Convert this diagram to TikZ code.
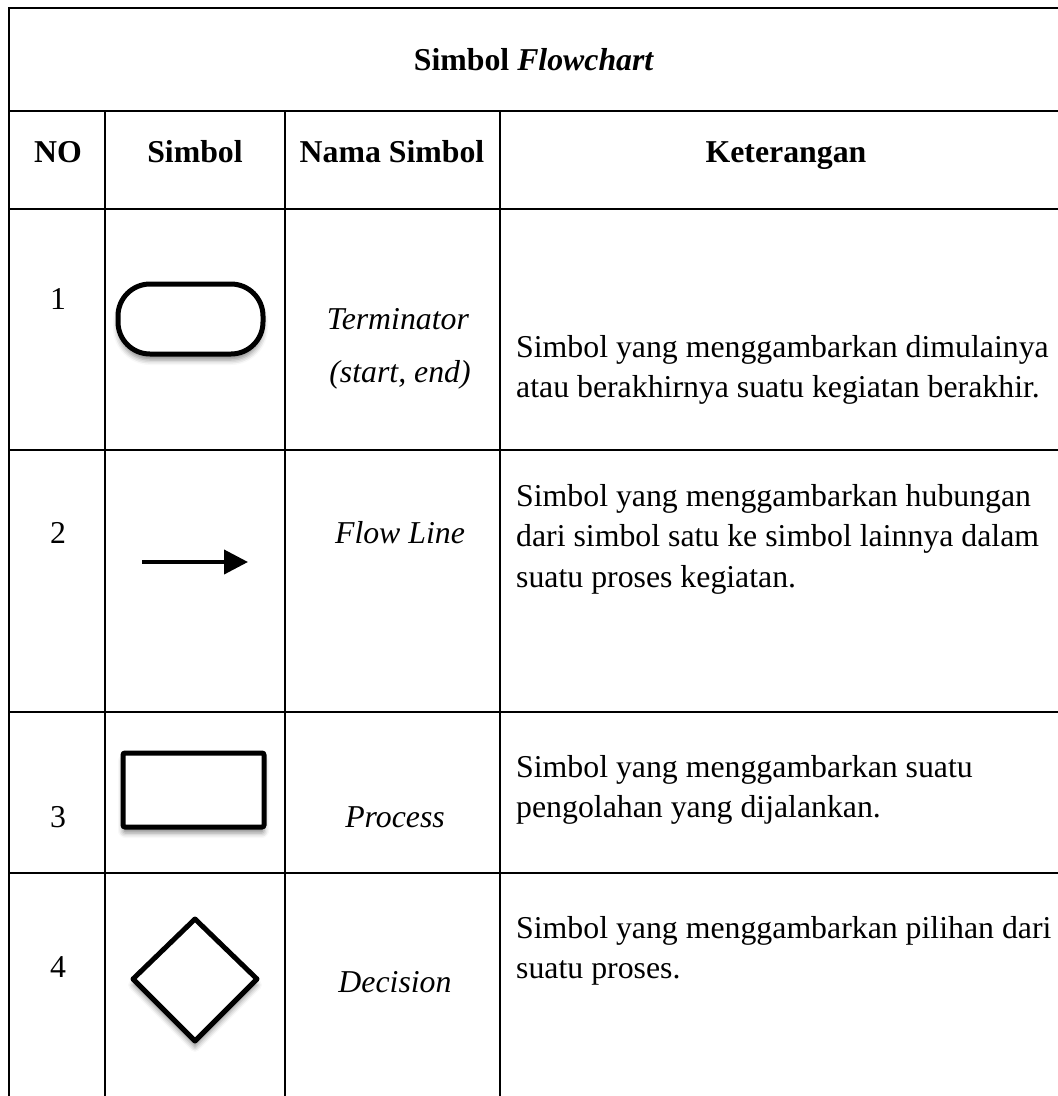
\documentclass[tikz,border=0pt]{standalone}
\usepackage{fontspec}
\setmainfont{Liberation Serif}
\usetikzlibrary{arrows.meta,shadows.blur}
\begin{document}
\begin{tikzpicture}[x=1pt,y=-1pt,
  grid/.style={line width=1.8pt, line cap=rect},
  txt/.style={inner sep=0pt, text height=22pt, text depth=7pt, yshift=-3.5pt, font=\fontsize{31.8}{40.5}\selectfont},
  desc/.style={inner sep=0pt, anchor=west, align=left, font=\fontsize{31.8}{40.5}\selectfont},
  sym/.style={line width=5pt, fill=white, blur shadow={shadow xshift=0pt, shadow yshift=-6pt, shadow blur radius=5pt, shadow opacity=45}}]
\useasboundingbox (0,0) rectangle (1058,1096);
% table grid
\draw[grid] (1058,8) -- (9,8) -- (9,1096);
\foreach \y in {111,209,450,712,873} \draw[grid] (9,\y) -- (1058,\y);
\foreach \x in {105,285,500} \draw[grid] (\x,111) -- (\x,1096);
% title and headers
\node[txt] (title) at (534,59) {\textbf{Simbol \textit{Flowchart}}};
\node[txt] (hno) at (58,151) {\textbf{NO}};
\node[txt] (hsym) at (195,151) {\textbf{Simbol}};
\node[txt] (hname) at (392,151) {\textbf{Nama Simbol}};
\node[txt] (hket) at (786,151) {\textbf{Keterangan}};
% row 1
\node[txt] (n1) at (58,298) {1};
\draw[sym, rounded corners=32pt] (118,284) rectangle (263,354);
\node[txt] (t1a) at (398,318) {\textit{Terminator}};
\node[txt] (t1b) at (400,371) {\textit{(start, end)}};
\node[desc] (d1) at (516,370) {Simbol yang menggambarkan dimulainya\\atau berakhirnya suatu kegiatan berakhir.};
% row 2
\node[txt] (n2) at (58,532) {2};
\coordinate (a1) at (142,562);
\coordinate (a2) at (248,562);
\draw[line width=4pt, -{Triangle[length=24pt,width=24pt,fill=black]}] (a1) -- (a2);
\node[txt] (t2) at (400,532) {\textit{Flow Line}};
\node[desc] (d2) at (516,539) {Simbol yang menggambarkan hubungan\\dari simbol satu ke simbol lainnya dalam\\suatu proses kegiatan.};
% row 3
\node[txt] (n3) at (58,816) {3};
\draw[sym, rounded corners=2pt] (123,753) rectangle (264,827);
\node[txt] (t3) at (395,816) {\textit{Process}};
\node[desc] (d3) at (516,790) {Simbol yang menggambarkan suatu\\pengolahan yang dijalankan.};
% row 4
\node[txt] (n4) at (58,966) {4};
\draw[sym, line join=round] (195,919) -- (257,979) -- (195,1041) -- (133,979) -- cycle;
\node[txt] (t4) at (395,981) {\textit{Decision}};
\node[desc] (d4) at (516,951) {Simbol yang menggambarkan pilihan dari\\suatu proses.};
\end{tikzpicture}
\end{document}
